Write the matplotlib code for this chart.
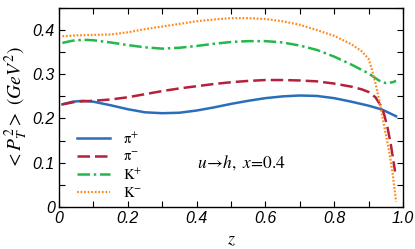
import matplotlib
matplotlib.use("Agg")
import matplotlib.pyplot as plt
from matplotlib.ticker import MultipleLocator

plt.rcParams['mathtext.fontset'] = 'stix'

z_pip = [0.01, 0.04, 0.07, 0.10, 0.15, 0.20, 0.25, 0.30, 0.35, 0.40, 0.45, 0.50, 0.55, 0.60, 0.65, 0.70, 0.75, 0.80, 0.85, 0.90, 0.94, 0.98]
v_pip = [0.232, 0.238, 0.240, 0.238, 0.230, 0.221, 0.214, 0.212, 0.213, 0.218, 0.225, 0.233, 0.240, 0.246, 0.250, 0.252, 0.251, 0.246, 0.238, 0.229, 0.220, 0.205]

z_pim = [0.01, 0.05, 0.10, 0.15, 0.20, 0.25, 0.30, 0.35, 0.40, 0.45, 0.50, 0.55, 0.60, 0.65, 0.70, 0.75, 0.80, 0.85, 0.88, 0.90, 0.92, 0.935, 0.945, 0.955, 0.965, 0.977]
v_pim = [0.232, 0.238, 0.240, 0.243, 0.248, 0.255, 0.262, 0.268, 0.273, 0.278, 0.282, 0.285, 0.287, 0.287, 0.286, 0.284, 0.279, 0.272, 0.266, 0.260, 0.248, 0.230, 0.210, 0.180, 0.140, 0.080]

z_kp = [0.01, 0.04, 0.07, 0.10, 0.15, 0.20, 0.25, 0.30, 0.35, 0.40, 0.45, 0.50, 0.55, 0.60, 0.65, 0.70, 0.75, 0.80, 0.85, 0.90, 0.93, 0.95, 0.97, 0.98]
v_kp = [0.371, 0.376, 0.378, 0.377, 0.372, 0.366, 0.361, 0.358, 0.360, 0.364, 0.369, 0.373, 0.375, 0.375, 0.372, 0.365, 0.355, 0.340, 0.322, 0.302, 0.286, 0.280, 0.282, 0.285]

z_km = [0.01, 0.05, 0.10, 0.15, 0.20, 0.25, 0.30, 0.35, 0.40, 0.45, 0.50, 0.55, 0.60, 0.65, 0.70, 0.75, 0.80, 0.85, 0.88, 0.90, 0.91, 0.92, 0.93, 0.94, 0.95, 0.96, 0.97, 0.98]
v_km = [0.386, 0.388, 0.389, 0.390, 0.395, 0.402, 0.408, 0.414, 0.420, 0.424, 0.427, 0.427, 0.425, 0.420, 0.412, 0.400, 0.387, 0.368, 0.352, 0.335, 0.310, 0.280, 0.245, 0.205, 0.165, 0.125, 0.075, 0.012]

labels = [r'$\mathrm{\pi^{+}}$', r'$\mathrm{\pi^{-}}$', r'$\mathrm{K^{+}}$', r'$\mathrm{K^{-}}$']

fig = plt.figure(figsize=(4.15, 2.49), dpi=100)
ax = fig.add_axes([0.142, 0.169, 0.829, 0.799])

ax.plot(z_pip, v_pip, color='#2a6ebb', lw=1.8, ls='-', label=labels[0])
ax.plot(z_pim, v_pim, color='#b5203a', lw=1.8, ls=(0, (5, 2)), label=labels[1])
ax.plot(z_kp, v_kp, color='#22b84a', lw=1.8, ls=(0, (5, 1.5, 1, 1.5)), label=labels[2])
ax.plot(z_km, v_km, color='#ff8a1c', lw=1.6, ls=(0, (0.8, 0.8)), label=labels[3])

ax.set_xlim(0, 1.0)
ax.set_ylim(0, 0.45)
ax.xaxis.set_minor_locator(MultipleLocator(0.1))
ax.yaxis.set_minor_locator(MultipleLocator(0.05))
ax.tick_params(which='both', direction='in', top=True, right=True)
ax.tick_params(which='major', length=4, width=0.8, labelsize=11.5, pad=3)
ax.tick_params(which='minor', length=4, width=0.8)
ax.set_xticks([0, 0.2, 0.4, 0.6, 0.8, 1.0])
ax.set_xticklabels(['0', '0.2', '0.4', '0.6', '0.8', '1.0'])
ax.set_yticks([0, 0.1, 0.2, 0.3, 0.4])
ax.set_yticklabels(['0', '0.1', '0.2', '0.3', '0.4'])
for lab in ax.get_xticklabels() + ax.get_yticklabels():
    lab.set_fontstyle('italic')
    lab.set_family('Liberation Sans')
for s in ax.spines.values():
    s.set_linewidth(1.0)

ax.set_xlabel(r'$z$', fontsize=13, labelpad=3)
ax.set_ylabel(r'$<P_T^2>\ (GeV^2)$', fontsize=14, labelpad=2)

ax.text(0.40, 0.10, r'$u\!\rightarrow\! h,\ x\!=\!\mathit{0.4}$', fontsize=12.5, va='center', ha='left')

leg = ax.legend(loc='upper left', bbox_to_anchor=(0.035, 0.41), frameon=False,
                fontsize=10.5, handlelength=2.3, labelspacing=0.2, handletextpad=0.9,
                borderaxespad=0)

fig.savefig('out.png', dpi=100)
